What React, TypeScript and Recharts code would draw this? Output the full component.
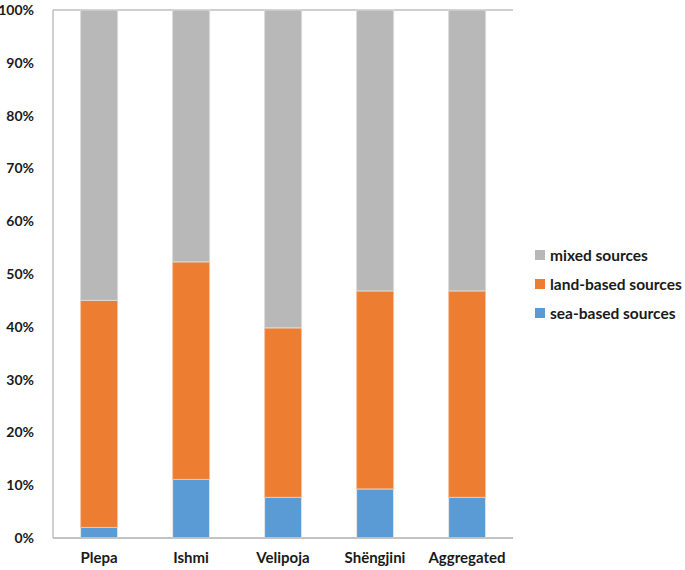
import React from "react";
import { BarChart, Bar, XAxis, YAxis, CartesianGrid, Legend } from "recharts";

const categories = ["Plepa", "Ishmi", "Velipoja", "Shëngjini", "Aggregated"];
const seaBased = [2.0, 11.1, 7.7, 9.3, 7.7];
const landBased = [43.0, 41.2, 32.1, 37.5, 39.1];
const mixed = [55.0, 47.7, 60.2, 53.2, 53.2];
const yTicks = [0, 10, 20, 30, 40, 50, 60, 70, 80, 90, 100];

const data = categories.map((name, i) => ({
  name,
  sea: seaBased[i],
  land: landBased[i],
  mixed: mixed[i],
}));

const FONT = "Lato, 'Open Sans', sans-serif";

const legendItems = [
  { label: "mixed sources", color: "#B8B8B8" },
  { label: "land-based sources", color: "#ED7D31" },
  { label: "sea-based sources", color: "#5B9BD5" },
];

const LegendContent = () => (
  <div style={{ fontFamily: FONT, fontWeight: 700, fontSize: 15.5, color: "#1a1a1a" }}>
    {legendItems.map((it) => (
      <div key={it.label} style={{ display: "flex", alignItems: "center", height: 29, whiteSpace: "nowrap" }}>
        <span style={{ width: 10, height: 10, background: it.color, display: "inline-block", marginRight: 5 }} />
        <span>{it.label}</span>
      </div>
    ))}
  </div>
);

export default function App() {
  return (
    <div style={{ position: "absolute", left: 0, top: 0, width: 685, height: 570, background: "#fff" }}>
      <BarChart
        width={685}
        height={570}
        data={data}
        margin={{ top: 10, right: 22, bottom: 0, left: 0 }}
        barCategoryGap="30%"
      >
        <CartesianGrid vertical={false} stroke="#BFBFBF" strokeWidth={1.5} />
        <XAxis
          dataKey="name"
          height={32}
          interval={0}
          axisLine={{ stroke: "#BFBFBF", strokeWidth: 1.5 }}
          tickLine={false}
          tick={{ fontFamily: FONT, fontWeight: 700, fontSize: 15, fill: "#1a1a1a" }}
          tickMargin={8}
        />
        <YAxis
          yAxisId="left"
          width={53}
          domain={[0, 100]}
          ticks={yTicks}
          tickFormatter={(v: number) => `${v}%`}
          axisLine={{ stroke: "#BFBFBF", strokeWidth: 1.5 }}
          tickLine={false}
          tickMargin={13}
          interval={0}
          tick={{ fontFamily: FONT, fontWeight: 700, fontSize: 14, fill: "#1a1a1a" }}
        />
        <YAxis
          yAxisId="right"
          orientation="right"
          width={0}
          domain={[0, 100]}
          ticks={yTicks}
          tick={false}
          tickLine={false}
          axisLine={{ stroke: "#BFBFBF", strokeWidth: 1.5 }}
        />
        <Legend
          layout="vertical"
          align="right"
          verticalAlign="middle"
          content={<LegendContent />}
          wrapperStyle={{ left: 535, top: 240, width: 150 }}
        />
        <Bar yAxisId="left" dataKey="sea" stackId="a" fill="#5B9BD5" stroke="#E6E6E6" strokeWidth={1} isAnimationActive={false} />
        <Bar yAxisId="left" dataKey="land" stackId="a" fill="#ED7D31" stroke="#F2C3A3" strokeWidth={1} isAnimationActive={false} />
        <Bar yAxisId="left" dataKey="mixed" stackId="a" fill="#B8B8B8" stroke="#DADADA" strokeWidth={1} isAnimationActive={false} />
      </BarChart>
    </div>
  );
}
